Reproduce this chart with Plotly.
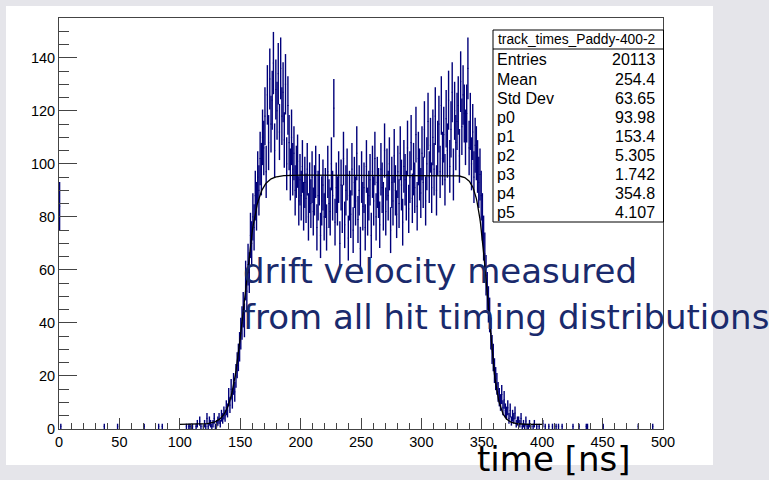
import numpy as np
import plotly.graph_objects as go

# Histogram: 500 bins of 1 ns from 0 to 500 ns
BIN_LO, BIN_HI = 0, 500

# counts for bins 100..419 ns
counts_100_419 = [
    0, 0, 0, 0, 0, 1, 0, 1, 1, 0,
    1, 0, 0, 1, 2, 0, 3, 1, 0, 1,
    2, 1, 4, 1, 3, 2, 1, 2, 4, 1,
    2, 3, 4, 2, 5, 4, 6, 5, 8, 7,
    12, 9, 15, 11, 17, 14, 20, 24, 27, 31,
    36, 40, 45, 41, 56, 52, 62, 59, 73, 70,
    80, 76, 88, 84, 95, 90, 102, 98, 110, 106,
    118, 97, 126, 108, 132, 115, 124, 138, 105, 128,
    120, 134, 112, 136, 118, 127, 109, 130, 100, 122,
    108, 96, 110, 98, 104, 90, 97, 101, 86, 94,
    88, 99, 84, 93, 87, 98, 80, 91, 85, 95,
    82, 90, 97, 76, 88, 94, 73, 86, 92, 80,
    89, 76, 97, 85, 82, 100, 88, 121, 78, 91,
    86, 95, 70, 92, 83, 102, 77, 90, 96, 72,
    88, 81, 98, 75, 93, 86, 104, 79, 90, 68,
    95, 84, 91, 76, 99, 82, 88, 94, 73, 97,
    86, 102, 80, 93, 89, 77, 98, 91, 84, 105,
    82, 96, 88, 100, 75, 93, 86, 103, 90, 81,
    97, 85, 104, 92, 78, 99, 94, 88, 106, 83,
    95, 108, 87, 98, 91, 111, 84, 102, 96, 89,
    104, 93, 113, 86, 100, 116, 95, 107, 91, 110,
    98, 118, 90, 106, 115, 97, 122, 102, 111, 94,
    117, 105, 124, 99, 113, 127, 96, 120, 108, 116,
    122, 103, 131, 114, 126, 119, 110, 119, 136, 106,
    116, 100, 112, 95, 107, 104, 99, 93, 96, 88,
    80, 72, 66, 58, 52, 47, 43, 36, 30, 27,
    22, 19, 17, 14, 12, 10, 13, 8, 11, 7,
    6, 8, 4, 7, 3, 5, 4, 6, 2, 3,
    3, 2, 4, 1, 2, 1, 3, 1, 1, 2,
    1, 0, 1, 2, 0, 1, 0, 1, 0, 0,
    2, 0, 1, 0, 0, 1, 0, 0, 1, 0,
    0, 1, 0, 1, 0, 0, 1, 0, 0, 0,
]

# isolated entries outside 100..419 ns: bin -> count
sparse_bins = [0, 1, 37, 48, 70, 82, 85, 425, 430, 436, 437, 450, 479, 491]
sparse_counts = [84, 1, 1, 1, 1, 1, 1, 1, 1, 1, 1, 1, 1, 1]

# fit parameters (two Fermi edges on a constant)
fit_names = ["p0", "p1", "p2", "p3", "p4", "p5"]
fit_values = [93.98, 153.4, 5.305, 1.742, 354.8, 4.107]
fit_labels = ["93.98", "153.4", "5.305", "1.742", "354.8", "4.107"]
FIT_LO, FIT_HI = 100, 400

stats_title = "track_times_Paddy-400-2"
stats_names = ["Entries", "Mean", "Std Dev"] + fit_names
stats_labels = ["20113", "254.4", "63.65"] + fit_labels

# ---- assemble histogram
counts = np.zeros(BIN_HI - BIN_LO)
counts[100:420] = counts_100_419
for b, c in zip(sparse_bins, sparse_counts):
    counts[b] = c
centers = np.arange(BIN_LO, BIN_HI) + 0.5
nz = counts > 0
hx, hy = centers[nz], counts[nz]

p0, p1, p2, p3, p4, p5 = fit_values
fx = np.linspace(FIT_LO, FIT_HI, 600)
fy = p3 + p0 / ((1 + np.exp(-(fx - p1) / p2)) * (1 + np.exp((fx - p4) / p5)))

fig = go.Figure()
fig.add_trace(go.Scatter(
    x=hx, y=hy, mode="markers",
    marker=dict(size=0.1, color="#000080"),
    error_y=dict(type="data", array=np.sqrt(hy), color="#00007a",
                 thickness=1.4, width=0),
    error_x=dict(type="constant", value=0.5, color="#00007a",
                 thickness=1, width=0),
    hoverinfo="skip", showlegend=False,
))
fig.add_trace(go.Scatter(
    x=fx, y=fy, mode="lines", line=dict(color="black", width=1.3),
    hoverinfo="skip", showlegend=False,
))

# pixel geometry of the frame
W, H = 769, 480
L, R, T, B = 59, 663, 18, 429


def px(x):
    return (x - L) / (R - L)


def py(y):
    return (B - y) / (B - T)


shapes = [
    # white canvas behind the pad
    dict(type="rect", xref="paper", yref="paper", layer="below",
         x0=px(6), x1=px(713), y0=py(465), y1=py(6),
         fillcolor="white", line=dict(width=0)),
    # stats box
    dict(type="rect", xref="paper", yref="paper",
         x0=px(493), x1=px(663.5), y0=py(222), y1=py(30),
         fillcolor="white", line=dict(color="black", width=1)),
    dict(type="line", xref="paper", yref="paper",
         x0=px(493), x1=px(663.5), y0=py(49), y1=py(49),
         line=dict(color="black", width=1)),
]

stat_font = dict(family="Liberation Sans, Arial, sans-serif", size=16, color="black")
annotations = [
    dict(text=stats_title, xref="paper", yref="paper", x=px(576), y=py(39.5),
         xanchor="center", yanchor="middle", showarrow=False,
         font=dict(family="Liberation Sans, Arial, sans-serif", size=13.8, color="black")),
]
for i, (n, v) in enumerate(zip(stats_names, stats_labels)):
    yc = 60 + i * 19.1
    annotations.append(dict(text=n, xref="paper", yref="paper", x=px(495), y=py(yc),
                            xanchor="left", yanchor="middle", showarrow=False, font=stat_font))
    annotations.append(dict(text=v, xref="paper", yref="paper", x=px(657), y=py(yc),
                            xanchor="right", yanchor="middle", showarrow=False, font=stat_font))

over_font = dict(family="DejaVu Sans, sans-serif", size=34, color="#1a2a6c")
annotations += [
    dict(text="drift velocity measured", xref="paper", yref="paper",
         x=px(241), y=py(271), xanchor="left", yanchor="middle",
         showarrow=False, font=over_font),
    dict(text="from all hit timing distributions", xref="paper", yref="paper",
         x=px(241), y=py(317), xanchor="left", yanchor="middle",
         showarrow=False, font=over_font),
    dict(text="time [ns]", xref="paper", yref="paper",
         x=px(553), y=py(459), xanchor="center", yanchor="middle",
         showarrow=False, font=dict(family="DejaVu Sans, sans-serif", size=34, color="black")),
]

tick_font = dict(family="Liberation Sans, Arial, sans-serif", size=14.5, color="black")
fig.update_layout(
    width=W, height=H,
    margin=dict(l=L, r=W - R, t=T, b=H - B),
    paper_bgcolor="#e5e5ea", plot_bgcolor="white",
    shapes=shapes, annotations=annotations,
    xaxis=dict(range=[0, 500], dtick=50, tick0=0, ticks="inside", ticklen=11,
               tickwidth=1, tickcolor="#444", showgrid=False, zeroline=False,
               showline=True, linecolor="#444", linewidth=1, mirror=True,
               tickfont=tick_font,
               minor=dict(dtick=10, ticks="inside", ticklen=6, tickcolor="#444",
                          showgrid=False)),
    yaxis=dict(range=[0, 155], dtick=20, tick0=0, ticks="inside", ticklen=18,
               tickwidth=1, tickcolor="#444", showgrid=False, zeroline=False,
               showline=True, linecolor="#444", linewidth=1, mirror=True,
               tickfont=tick_font,
               minor=dict(dtick=5, ticks="inside", ticklen=10, tickcolor="#444",
                          showgrid=False)),
)

fig.write_html("out.html")
